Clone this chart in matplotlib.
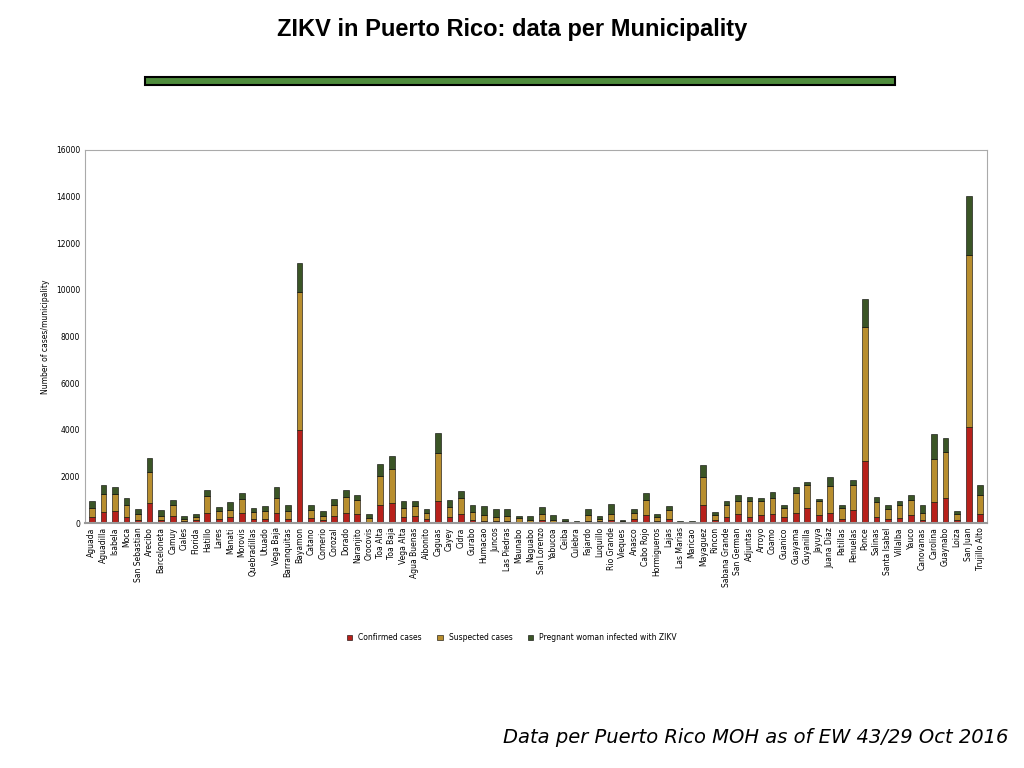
import matplotlib
matplotlib.use("Agg")
import matplotlib.pyplot as plt
import numpy as np
from matplotlib.patches import Rectangle

municipalities = ["Aguada","Aguadilla","Isabela","Moca","San Sebastian","Arecibo","Barceloneta","Camuy","Ciales","Florida",
"Hatillo","Lares","Manati","Morovis","Quebradillas","Utuado","Vega Baja","Barranquitas","Bayamon","Catano",
"Comerio","Corozal","Dorado","Naranjito","Orocovis","Toa Alta","Toa Baja","Vega Alta","Agua Buenas","Aibonito",
"Caguas","Cayey","Cidra","Gurabo","Humacao","Juncos","Las Piedras","Maunabo","Naguabo","San Lorenzo",
"Yabucoa","Ceiba","Culebra","Fajardo","Luquillo","Rio Grande","Vieques","Anasco","Cabo Rojo","Hormigueros",
"Lajas","Las Marias","Maricao","Mayaguez","Rincon","Sabana Grande","San German","Adjuntas","Arroyo","Coamo",
"Guanico","Guayama","Guyanilla","Jayuya","Juana Diaz","Patillas","Penuelas","Ponce","Salinas","Santa Isabel",
"Villalba","Yauco","Canovanas","Carolina","Guaynabo","Loiza","San Juan","Trujillo Alto"]
confirmed = [245,460,500,270,115,845,115,285,85,115,
445,157,245,415,157,185,415,157,4000,200,
115,285,415,370,57,785,845,245,285,157,
960,245,400,143,85,70,85,43,30,143,
43,30,15,100,70,130,30,157,360,85,
185,30,30,785,130,270,385,270,360,385,
245,445,660,360,445,185,570,2650,270,185,
230,360,115,915,1070,115,4100,400]
suspected = [400,800,760,515,270,1360,200,500,70,130,
730,343,330,630,315,345,670,370,5900,370,
200,485,715,630,170,1245,1460,400,460,270,
2060,460,660,345,270,185,230,185,85,260,
70,43,30,260,100,270,43,270,630,170,
370,30,15,1190,200,485,560,660,585,690,
385,860,960,570,1145,460,1060,5750,630,415,
545,610,315,1815,1975,260,7400,785]
pregnant = [285,385,285,300,230,570,230,215,145,155,
230,200,315,245,185,200,460,230,1250,185,
200,270,270,215,157,515,560,285,185,185,
845,285,315,270,370,330,270,85,185,300,
245,85,30,230,140,400,70,185,300,143,
157,43,30,530,130,200,270,185,130,270,
157,255,143,115,400,143,230,1200,230,185,
185,245,360,1090,615,157,2500,445]

c_red, c_gold, c_green = "#B8211B", "#B88E2E", "#3B5526"

fig = plt.figure(figsize=(10.24, 7.68), dpi=100)
fig.patch.set_facecolor("white")
fig.text(0.5, 0.962, "ZIKV in Puerto Rico: data per Municipality", ha="center", va="center",
         fontsize=17, fontweight="bold", family="Liberation Sans")
fig.patches.append(Rectangle((0.142, 0.889), 0.732, 0.011, transform=fig.transFigure,
                             facecolor="#4E8C3C", edgecolor="black", linewidth=1.5))

ax = fig.add_axes([0.083, 0.319, 0.881, 0.486])
x = np.arange(len(municipalities))
conf = np.array(confirmed); sus = np.array(suspected); pre = np.array(pregnant)
kw = dict(width=0.5, edgecolor="black", linewidth=0.4)
ax.bar(x, conf, color=c_red, label="Confirmed cases", **kw)
ax.bar(x, sus, bottom=conf, color=c_gold, label="Suspected cases", **kw)
ax.bar(x, pre, bottom=conf + sus, color=c_green, label="Pregnant woman infected with ZIKV", **kw)
ax.set_xlim(-0.6, len(x) - 0.4)
ax.set_ylim(0, 16000)
ax.set_yticks(range(0, 16001, 2000))
ax.tick_params(axis="y", labelsize=5.5, length=0)
ax.set_xticks(x)
ax.set_xticklabels(municipalities, rotation=90, fontsize=5.5)
ax.tick_params(axis="x", length=0, pad=3)
ax.set_ylabel("Number of cases/municipality", fontsize=5.5)
for s in ax.spines.values():
    s.set_color("#AAAAAA"); s.set_linewidth(0.8)
ax.spines["bottom"].set_color("#999999"); ax.spines["bottom"].set_linewidth(1.5)
fig.legend(loc="center", bbox_to_anchor=(0.5, 0.17), ncol=3, fontsize=5.5, frameon=False,
           handlelength=0.7, handleheight=0.7, columnspacing=2)
fig.text(0.985, 0.04, "Data per Puerto Rico MOH as of EW 43/29 Oct 2016", ha="right", va="center",
         fontsize=14, style="italic")
fig.savefig("out.png", dpi=100)
